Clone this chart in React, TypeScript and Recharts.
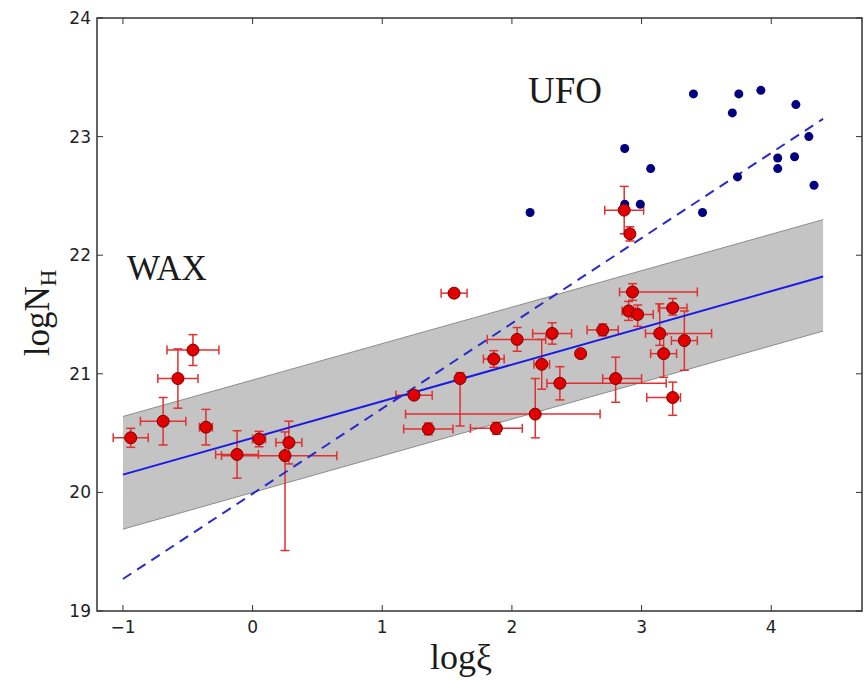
import { ComposedChart, Area, Line, Scatter, XAxis, YAxis, ErrorBar, ReferenceArea } from 'recharts';

// fit band / lines, sampled at the two ends
const fitX = [-1, 4.4];
const bandLow = [19.69, 21.36];
const bandHigh = [20.64, 22.3];
const waxFit = [20.15, 21.82];
const ufoFit = [19.27, 23.15];

// WAX points (red, with error bars)
const waxX = [-0.94, -0.69, -0.576, -0.46, -0.36, -0.12, 0.05, 0.28, 0.25, 1.554, 1.245, 1.6, 1.355, 1.88, 2.18, 1.86, 2.04, 2.23, 2.31, 2.37, 2.53, 2.8, 2.7, 2.93, 2.9, 2.97, 3.24, 3.14, 3.33, 3.17, 3.24, 2.866, 2.91];
const waxY = [20.46, 20.6, 20.96, 21.2, 20.55, 20.32, 20.45, 20.42, 20.31, 21.68, 20.82, 20.96, 20.535, 20.54, 20.66, 21.125, 21.29, 21.08, 21.34, 20.92, 21.17, 20.96, 21.37, 21.69, 21.53, 21.5, 21.555, 21.34, 21.28, 21.17, 20.8, 22.38, 22.18];
const waxXErrLo = [0.135, 0.175, 0.155, 0.2, 0.05, 0.165, 0.05, 0.1, 0.49, 0.1, 0.14, 0.03, 0.19, 0.2, 1.0, 0.08, 0.23, 0.06, 0.15, 0.1, 0, 0.1, 0.12, 0.1, 0.05, 0.05, 0.11, 0.11, 0.1, 0.1, 0.2, 0.15, 0.03];
const waxXErrHi = [0.135, 0.175, 0.155, 0.2, 0.05, 0.165, 0.05, 0.1, 0.4, 0.1, 0.14, 0.03, 0.19, 0.2, 0.5, 0.08, 0.22, 0.06, 0.15, 0.82, 0, 0.2, 0.12, 0.5, 0.05, 0.12, 0.11, 0.4, 0.1, 0.1, 0.06, 0.15, 0.03];
const waxYErrLo = [0.08, 0.2, 0.25, 0.13, 0.15, 0.2, 0.065, 0.18, 0.8, 0.03, 0.02, 0.4, 0.05, 0.05, 0.2, 0.07, 0.1, 0.21, 0.09, 0.14, 0, 0.2, 0.05, 0.07, 0.08, 0.1, 0.06, 0.1, 0.25, 0.2, 0.15, 0.2, 0.06];
const waxYErrHi = [0.08, 0.2, 0.25, 0.13, 0.15, 0.2, 0.065, 0.18, 0.2, 0.03, 0.02, 0.05, 0.05, 0.05, 0.3, 0.07, 0.1, 0.21, 0.09, 0.14, 0, 0.18, 0.05, 0.07, 0.08, 0.08, 0.08, 0.25, 0.25, 0.16, 0.13, 0.2, 0.06];

// UFO points (blue)
const ufoX = [2.14, 2.87, 3.07, 2.87, 2.99, 3.47, 3.4, 3.75, 3.92, 3.7, 4.19, 4.29, 3.74, 4.05, 4.18, 4.05, 4.33];
const ufoY = [22.36, 22.9, 22.73, 22.43, 22.43, 22.36, 23.36, 23.36, 23.39, 23.2, 23.27, 23.0, 22.66, 22.82, 22.83, 22.73, 22.59];

const xTicks = [-1, 0, 1, 2, 3, 4];
const yTicks = [19, 20, 21, 22, 23, 24];
const xDomain: [number, number] = [-1.2, 4.7];
const yDomain: [number, number] = [19, 24];

const fitRows = fitX.map((x, i) => ({ x, low: bandLow[i], high: bandHigh[i], wax: waxFit[i], ufo: ufoFit[i] }));
const waxRows = waxX.map((x, i) => ({
  x,
  y: waxY[i],
  ex: [waxXErrLo[i], waxXErrHi[i]],
  ey: [waxYErrLo[i], waxYErrHi[i]],
}));
const ufoRows = ufoX.map((x, i) => ({ x, y: ufoY[i] }));

const AXIS = '#333';
const LABEL = '#222';
const serif = '"Liberation Serif", "DejaVu Serif", serif';
const sans = '"DejaVu Sans", sans-serif';
const TICK = 6;

const fmt = (v: number) => (v < 0 ? `\u2212${Math.abs(v)}` : `${v}`);

// matplotlib-style inward ticks, drawn together with the label
const BottomTick = (p: any) => (
  <g>
    <line x1={p.x} x2={p.x} y1={p.y - 8} y2={p.y - 8 - TICK} stroke={AXIS} strokeWidth={1} />
    <text x={p.x} y={p.y + 14} textAnchor="middle" fontFamily={sans} fontSize={17} fill={LABEL}>
      {fmt(p.payload.value)}
    </text>
  </g>
);
const LeftTick = (p: any) => (
  <g>
    <line x1={p.x + 6} x2={p.x + 6 + TICK} y1={p.y} y2={p.y} stroke={AXIS} strokeWidth={1} />
    <text x={p.x} y={p.y + 6} textAnchor="end" fontFamily={sans} fontSize={17} fill={LABEL}>
      {p.payload.value}
    </text>
  </g>
);
const TopTick = (p: any) => <line x1={p.x} x2={p.x} y1={p.y - TICK} y2={p.y} stroke={AXIS} strokeWidth={1} />;
const RightTick = (p: any) => <line x1={p.x} x2={p.x + TICK} y1={p.y} y2={p.y} stroke={AXIS} strokeWidth={1} />;

const RedDot = (p: any) => <circle cx={p.cx} cy={p.cy} r={6} fill="#e00000" stroke="#7a0000" strokeWidth={1} />;
const BlueDot = (p: any) => <circle cx={p.cx} cy={p.cy} r={4.5} fill="#000080" />;

export default function App() {
  return (
    <div style={{ position: 'absolute', left: 0, top: 0, width: 867, height: 680, background: '#fff' }}>
      <ComposedChart width={867} height={680} data={fitRows} margin={{ top: 17, right: 4, bottom: 0, left: 0 }}>
        <XAxis
          type="number"
          dataKey="x"
          domain={xDomain}
          allowDataOverflow
          ticks={xTicks}
          height={69}
          tickSize={-TICK}
          tickMargin={TICK + 8}
          tick={BottomTick}
          tickLine={false}
          axisLine={false}
        />
        <XAxis
          xAxisId="top"
          orientation="top"
          type="number"
          dataKey="x"
          domain={xDomain}
          allowDataOverflow
          ticks={xTicks}
          height={1}
          tickSize={-TICK}
          tickMargin={0}
          tick={TopTick}
          tickLine={false}
          axisLine={false}
        />
        <YAxis
          type="number"
          dataKey="y"
          domain={yDomain}
          allowDataOverflow
          ticks={yTicks}
          width={97}
          tickSize={-TICK}
          tickMargin={TICK + 6}
          tick={LeftTick}
          tickLine={false}
          axisLine={false}
        />
        <YAxis
          yAxisId="right"
          orientation="right"
          type="number"
          domain={yDomain}
          allowDataOverflow
          ticks={yTicks}
          width={1}
          tickSize={-TICK}
          tickMargin={0}
          tick={RightTick}
          tickLine={false}
          axisLine={false}
        />
        <Area
          dataKey={(d: any) => [d.low, d.high]}
          fill="#c4c4c4"
          fillOpacity={1}
          stroke="#8c8c8c"
          strokeWidth={1}
          isAnimationActive={false}
        />
        <Scatter data={ufoRows} shape={BlueDot} isAnimationActive={false} />
        <Scatter data={waxRows} shape={RedDot} isAnimationActive={false}>
          <ErrorBar dataKey="ex" direction="x" width={4.5} stroke="#e03030" strokeWidth={1.5} />
          <ErrorBar dataKey="ey" direction="y" width={4.5} stroke="#e03030" strokeWidth={1.5} />
        </Scatter>
        <Line dataKey="wax" stroke="#1a1ae6" strokeWidth={2} dot={false} isAnimationActive={false} />
        <Line dataKey="ufo" stroke="#2a2ac8" strokeWidth={2} strokeDasharray="10 7" dot={false} isAnimationActive={false} />
        <ReferenceArea
          x1={xDomain[0]}
          x2={xDomain[1]}
          y1={yDomain[0]}
          y2={yDomain[1]}
          fill="none"
          fillOpacity={0}
          stroke={AXIS}
          strokeWidth={1.5}
          ifOverflow="visible"
        />
      </ComposedChart>
      <svg width={867} height={680} style={{ position: 'absolute', left: 0, top: 0, pointerEvents: 'none' }}>
        <text x={528} y={103} fontFamily={serif} fontSize={37} fill="#1a1a1a">UFO</text>
        <text x={127} y={280} fontFamily={serif} fontSize={35} fill="#1a1a1a">WAX</text>
        <text x={461} y={669} textAnchor="middle" fontFamily={serif} fontSize={36} fill="#1a1a1a">log&#958;</text>
        <text transform="translate(49,313) rotate(-90)" textAnchor="middle" fontFamily={serif} fontSize={35} fill="#1a1a1a">
          logN<tspan fontSize={23} dy={7}>H</tspan>
        </text>
      </svg>
    </div>
  );
}
